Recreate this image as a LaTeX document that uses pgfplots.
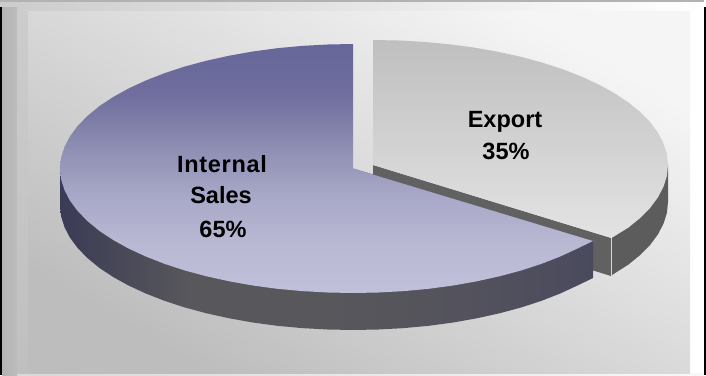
\documentclass[border=0pt]{standalone}
\usepackage{pgfplots}
\usepackage{fontspec}
\setmainfont{Liberation Sans}
\pgfplotsset{compat=1.18}

\definecolor{blueA}{HTML}{666699}
\definecolor{blueB}{HTML}{6F6E9E}
\definecolor{blueC}{HTML}{8A89B0}
\definecolor{blueD}{HTML}{A5A5C6}
\definecolor{blueE}{HTML}{B8B8D3}
\definecolor{blueF}{HTML}{C0C0DA}
\definecolor{rimL}{HTML}{3A3B55}
\definecolor{rimM}{HTML}{58575C}
\definecolor{rimR}{HTML}{4A4A5E}
% Vertical ramp of the large slice; 25bp..75bp spans its bounding box
\pgfdeclareverticalshading{sliceblue}{100bp}{
  color(0bp)=(blueF); color(25bp)=(blueF); color(35.6bp)=(blueE);
  color(45.7bp)=(blueD); color(55.7bp)=(blueC); color(64.8bp)=(blueB);
  color(75bp)=(blueA); color(100bp)=(blueA)}
% Rim of the large slice: dark blue at the left, neutral below, blue again at the right
\pgfdeclarehorizontalshading{rimshade}{100bp}{
  color(0bp)=(rimL); color(25bp)=(rimL); color(37bp)=(rimM);
  color(50bp)=(rimM); color(62bp)=(rimM!70!rimR); color(75bp)=(rimR); color(100bp)=(rimR)}
\newcommand{\labelfont}{\fontsize{23.5}{28}\selectfont\bfseries}

\begin{document}
\begin{tikzpicture}
\begin{axis}[
  scale only axis, width=706pt, height=375pt,
  xmin=0, xmax=706, ymin=0, ymax=375, y dir=reverse,
  hide axis]

% Outer frame
\addplot[draw=none, fill=white] coordinates {(0,0)(706,0)(706,375)(0,375)} --cycle;
\addplot[draw=none, left color=black!20, right color=white] coordinates {(0,1.5)(704,1.5)(704,11)(0,11)} --cycle;
\addplot[draw=none, fill=black!30] coordinates {(0,0)(704,0)(704,1.5)(0,1.5)} --cycle;
\addplot[draw=none, left color=black!15, right color=black!3] coordinates {(17,373)(704,373)(704,375)(17,375)} --cycle;
\addplot[draw=none, left color=black!30, right color=black!26] coordinates {(2,7)(17,7)(17,375)(2,375)} --cycle;
\addplot[draw=none, top color=black!20, bottom color=black!25] coordinates {(17,11)(28,11)(28,373)(17,373)} --cycle;
\addplot[draw=none, fill=black] coordinates {(0,7)(2,7)(2,375)(0,375)} --cycle;
\addplot[draw=none, fill=black] coordinates {(703.8,7)(706,7)(706,375)(703.8,375)} --cycle;

% Plot area
\addplot[draw=none, top color=black!4, bottom color=black!26, shading angle=-30]
  coordinates {(28,11)(690,11)(690,373)(28,373)} --cycle;

% Export: rim, cut face, top
\addplot[draw=none, fill=black!64] coordinates {
  (668,165)(668,202)(666.9,212.9)(663.5,223.7)(657.9,234.4)(650.2,244.8)
  (640.4,254.8)(628.5,264.5)(612,275)(611.5,238)} --cycle;
\addplot[draw=none, fill=black!62] coordinates {(373,165)(611,238)(611,276)(373,203)} --cycle;
\addplot[draw=none, top color=black!25, bottom color=black!11] coordinates {
  (373,165)(373,40)(398.7,40.5)(424.2,41.9)(449.4,44.3)(473.9,47.5)(497.7,51.7)
  (520.5,56.7)(542.2,62.6)(562.6,69.2)(581.6,76.6)(599,84.7)(614.6,93.3)
  (628.5,102.5)(640.4,112.2)(650.2,122.2)(657.9,132.6)(663.5,143.3)(666.9,154.1)
  (668,165)(666.9,175.9)(663.5,186.7)(657.9,197.4)(650.2,207.8)(640.4,217.8)
  (628.5,227.5)(611.5,238)} --cycle;
\addplot[draw=black!15, line width=0.8pt] coordinates {(611.3,238)(611.3,276)};

% Internal Sales: rim, top
\addplot[draw=none, shading=rimshade] coordinates {
  (60,168.5)(60,205.5)(61.1,216.4)(64.5,227.1)(70,237.7)(77.7,248.1)(87.5,258.1)
  (99.3,267.8)(113,276.9)(128.5,285.5)(145.8,293.5)(164.7,300.9)(184.9,307.5)
  (206.5,313.3)(229.2,318.3)(252.8,322.5)(277.2,325.8)(302.1,328.1)(327.5,329.5)
  (353,330)(378.5,329.5)(403.9,328.1)(428.8,325.8)(453.2,322.5)(476.8,318.3)
  (499.5,313.3)(521.1,307.5)(541.3,300.9)(560.2,293.5)(577.5,285.5)(593,278)
  (593,241)(353,168.5)} --cycle;
\addplot[draw=none, shading=sliceblue] coordinates {
  (353,168.5)(353,44)(327.5,44.5)(302.1,45.9)(277.2,48.2)(252.8,51.5)(229.2,55.7)
  (206.5,60.7)(184.9,66.5)(164.7,73.1)(145.8,80.5)(128.5,88.5)(113,97.1)(99.3,106.2)
  (87.5,115.9)(77.7,125.9)(70,136.3)(64.5,146.9)(61.1,157.6)(60,168.5)(61.1,179.4)
  (64.5,190.1)(70,200.7)(77.7,211.1)(87.5,221.1)(99.3,230.8)(113,239.9)(128.5,248.5)
  (145.8,256.5)(164.7,263.9)(184.9,270.5)(206.5,276.3)(229.2,281.3)(252.8,285.5)
  (277.2,288.8)(302.1,291.1)(327.5,292.5)(353,293)(378.5,292.5)(403.9,291.1)
  (428.8,288.8)(453.2,285.5)(476.8,281.3)(499.5,276.3)(521.1,270.5)(541.3,263.9)
  (560.2,256.5)(577.5,248.5)(593,241)} --cycle;

% Slice labels
\node[anchor=base, inner sep=0pt] at (axis cs:222,172) {\labelfont\addfontfeature{LetterSpace=3}Internal};
\node[anchor=base, inner sep=0pt] at (axis cs:221,203) {\labelfont Sales};
\node[anchor=base, inner sep=0pt] at (axis cs:223,237) {\labelfont 65\%};
\node[anchor=base, inner sep=0pt] at (axis cs:505,127) {\labelfont Export};
\node[anchor=base, inner sep=0pt] at (axis cs:506,159) {\labelfont 35\%};
\end{axis}
\end{tikzpicture}
\end{document}
